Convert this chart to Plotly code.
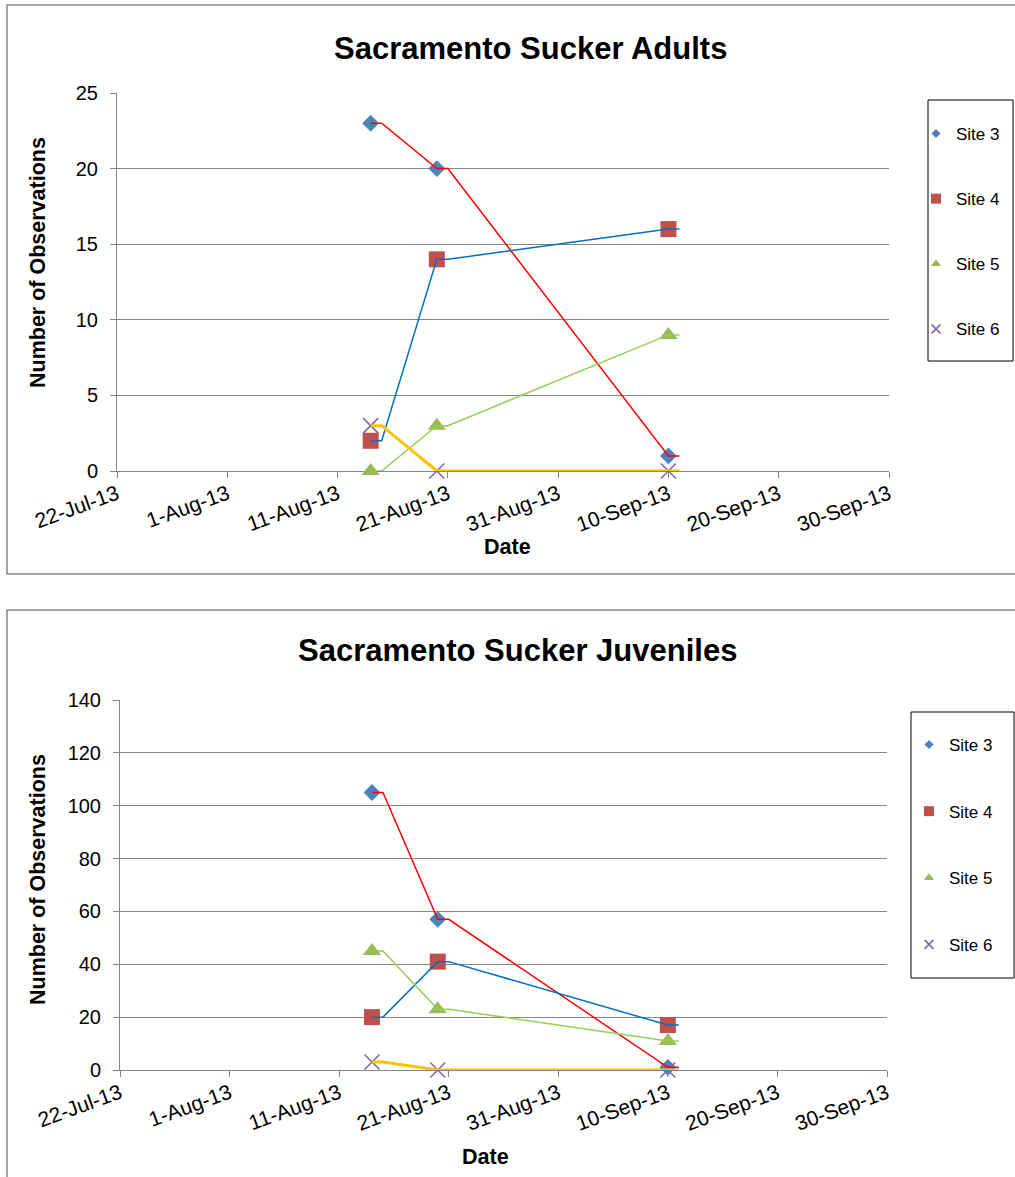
import pandas as pd
import plotly.graph_objects as go

# Survey dates and counts per site
survey_dates = ["2013-08-14", "2013-08-20", "2013-09-10"]
sites = ["Site 3", "Site 4", "Site 5", "Site 6"]

adult_site3 = [23, 20, 1]
adult_site4 = [2, 14, 16]
adult_site5 = [0, 3, 9]
adult_site6 = [3, 0, 0]

juv_site3 = [105, 57, 1]
juv_site4 = [20, 41, 17]
juv_site5 = [45, 23, 11]
juv_site6 = [3, 0, 0]

x_tick_start = "2013-07-22"
x_tick_end = "2013-09-30"

W, H = 1015, 1177


def px(x):
    return x / W


def py(y):
    return 1 - y / H


FONT = "Liberation Sans, Arial, sans-serif"
GRID = "#868686"

marker_styles = {
    "Site 3": dict(symbol="diamond", color="#4F81BD", size=13, lsize=7),
    "Site 4": dict(symbol="square", color="#C0504D", size=16, lsize=10),
    "Site 5": dict(symbol="triangle-up", color="#9BBB59", size=16, lsize=9),
    "Site 6": dict(symbol="x-thin", color="#8064A2", size=15, lsize=9),
}
line_styles = {
    "Site 3": dict(color="#FF0000", width=1.5),
    "Site 4": dict(color="#0070C0", width=1.5),
    "Site 5": dict(color="#92D050", width=1.5),
    "Site 6": dict(color="#FFC000", width=3),
}

dates = pd.to_datetime(survey_dates)


def step_path(values):
    # each survey spans its date and the following day
    xs, ys = [], []
    for d, v in zip(dates, values):
        xs += [d, d + pd.Timedelta(days=1)]
        ys += [v, v]
    return xs, ys


fig = go.Figure()

panels = [
    dict(xa="x", ya="y", legend="legend", data=[adult_site3, adult_site4, adult_site5, adult_site6]),
    dict(xa="x2", ya="y2", legend="legend2", data=[juv_site3, juv_site4, juv_site5, juv_site6]),
]

for p in panels:
    # markers first, lines drawn above them
    for name, vals in zip(sites, p["data"]):
        ms = marker_styles[name]
        mk = dict(symbol=ms["symbol"], size=ms["size"], color=ms["color"])
        if ms["symbol"] == "x-thin":
            mk["line"] = dict(color=ms["color"], width=1.5)
        else:
            mk["line"] = dict(width=0)
        fig.add_trace(go.Scatter(x=dates, y=vals, mode="markers", marker=mk,
                                 xaxis=p["xa"], yaxis=p["ya"], showlegend=False,
                                 cliponaxis=False, hoverinfo="skip"))
    for name, vals in zip(sites, p["data"]):
        xs, ys = step_path(vals)
        fig.add_trace(go.Scatter(x=xs, y=ys, mode="lines", line=line_styles[name],
                                 xaxis=p["xa"], yaxis=p["ya"], showlegend=False,
                                 hoverinfo="skip"))
    # legend entries with small symbols
    for name in sites:
        ms = marker_styles[name]
        mk = dict(symbol=ms["symbol"], size=ms["lsize"], color=ms["color"])
        if ms["symbol"] == "x-thin":
            mk["line"] = dict(color=ms["color"], width=1.5)
        else:
            mk["line"] = dict(width=0)
        fig.add_trace(go.Scatter(x=[None], y=[None], mode="markers", marker=mk, name=name,
                                 xaxis=p["xa"], yaxis=p["ya"], legend=p["legend"],
                                 legendgroup=p["legend"] + name, showlegend=True))

xaxis_common = dict(
    type="date", range=[x_tick_start, x_tick_end], tick0=x_tick_start, dtick=864000000,
    tickformat="%-d-%b-%y", tickangle=-20, ticks="outside", ticklen=6, tickcolor=GRID,
    showline=True, linecolor=GRID, linewidth=1, showgrid=False, zeroline=False,
    tickfont=dict(family=FONT, size=21, color="black"), layer="below traces",
    automargin=False, ticklabelstandoff=-4,
)
yaxis_common = dict(
    ticks="outside", ticklen=6, tickcolor=GRID, showline=True, linecolor=GRID, linewidth=1,
    showgrid=True, gridcolor=GRID, gridwidth=1, zeroline=False, ticklabelstandoff=8,
    tickfont=dict(family=FONT, size=20, color="black"), layer="below traces",
    automargin=False,
)

legend_common = dict(xanchor="left", yanchor="top", traceorder="grouped",
                     font=dict(family=FONT, size=17, color="black"),
                     bgcolor="rgba(0,0,0,0)", borderwidth=0)

fig.update_layout(
    width=W, height=H, margin=dict(l=0, r=0, t=0, b=0, autoexpand=False),
    paper_bgcolor="white", plot_bgcolor="white",
    xaxis=dict(domain=[px(117), px(889)], anchor="y", **xaxis_common),
    yaxis=dict(domain=[py(471), py(93)], anchor="x", range=[0, 25], dtick=5, **yaxis_common),
    xaxis2=dict(domain=[px(120), px(887)], anchor="y2", **xaxis_common),
    yaxis2=dict(domain=[py(1070), py(700)], anchor="x2", range=[0, 140], dtick=20, **yaxis_common),
    legend=dict(x=px(916), y=py(116), tracegroupgap=40, **legend_common),
    legend2=dict(x=px(909), y=py(727), tracegroupgap=41.5, **legend_common),
    showlegend=True,
)

shapes = [
    # chart frames
    dict(type="rect", xref="paper", yref="paper", x0=px(7), x1=px(1030), y0=py(574), y1=py(5),
         line=dict(color=GRID, width=1.5)),
    dict(type="rect", xref="paper", yref="paper", x0=px(7), x1=px(1030), y0=py(1200), y1=py(610),
         line=dict(color=GRID, width=1.5)),
    # legend frames
    dict(type="rect", xref="paper", yref="paper", x0=px(928), x1=px(1013), y0=py(361), y1=py(100),
         line=dict(color="black", width=1)),
    dict(type="rect", xref="paper", yref="paper", x0=px(911), x1=px(1014), y0=py(978), y1=py(712),
         line=dict(color="black", width=1)),
]
fig.update_layout(shapes=shapes)


def txt(text, x, y, size, angle=0):
    return dict(text=f"<b>{text}</b>", x=px(x), y=py(y), xref="paper", yref="paper",
                showarrow=False, xanchor="center", yanchor="middle", textangle=angle,
                font=dict(family=FONT, size=size, color="black"))


fig.update_layout(annotations=[
    txt("Sacramento Sucker Adults", 530, 48, 31),
    txt("Number of Observations", 38, 263, 21.5, -90),
    txt("Date", 507, 547, 21.5),
    txt("Sacramento Sucker Juveniles", 517, 650, 31),
    txt("Number of Observations", 38, 880, 21.5, -90),
    txt("Date", 485, 1157, 21.5),
])

fig.write_html("out.html")
